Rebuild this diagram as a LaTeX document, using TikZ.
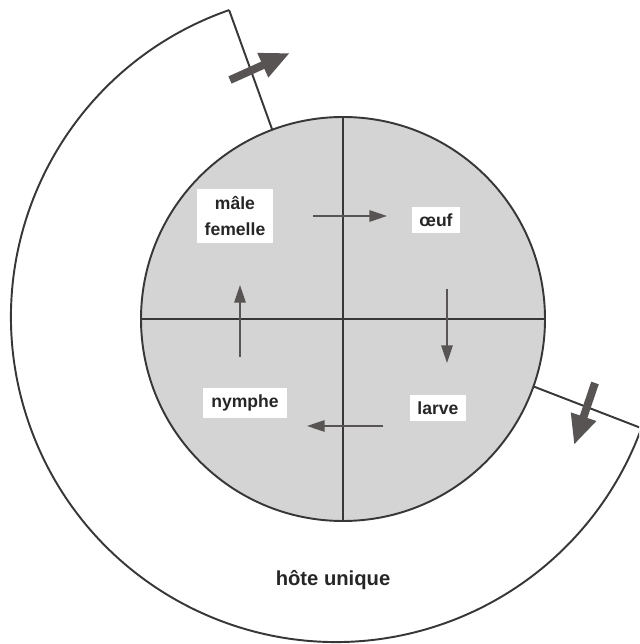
\documentclass[tikz,border=0pt]{standalone}
\usepackage{fontspec}
\setsansfont{Liberation Sans}
\usepackage{tikz}
\usetikzlibrary{arrows.meta,positioning,calc}
\usepackage{xcolor}
\definecolor{inkline}{RGB}{55,55,55}
\definecolor{inkarrow}{RGB}{88,84,84}
\definecolor{hostgrey}{RGB}{212,212,212}
\tikzset{
  stage/.style={fill=white,inner xsep=4.5pt,inner ysep=4pt,align=center,text=black!85,
                font=\sffamily\bfseries\fontsize{10}{15}\selectfont},
  hostlabel/.style={inner sep=2pt,text=black!85,
                font=\sffamily\bfseries\fontsize{11.5}{13}\selectfont},
  rim/.style={draw=inkline,line width=1.1pt},
  turn/.style={-{Triangle[length=10pt,width=6.5pt]},draw=inkarrow,line width=.9pt},
  passage/.style={-{Triangle[length=17pt,width=14pt]},draw=inkarrow,line width=4.5pt},
}

\begin{document}
\begin{tikzpicture}[x=0.02cm,y=0.02cm]
  \clip (-343,-325) rectangle (296,319);
  \coordinate (c) at (0,0);
  \coordinate (oc) at (-7,2);
  % host body with the four stages
  \draw[rim,fill=hostgrey] (c) circle[radius=202];
  \draw[rim] (0,202) -- (0,-202);
  \draw[rim] (-202,0) -- (202,0);
  \node[stage] (mf) at (-108,103) {mâle\\femelle};
  \node[stage] (egg) at (93,99) {œuf};
  \node[stage] (nymph) at (-98,-84) {nymphe};
  \node[stage] (larva) at (95,-89) {larve};
  % cycle arrows
  \coordinate (t1) at (-30,103);
  \coordinate (t2) at (44,103);
  \coordinate (r1) at (104,30);
  \coordinate (r2) at (104,-44);
  \coordinate (b1) at (40,-107);
  \coordinate (b2) at (-36,-107);
  \coordinate (l1) at (-103,-38);
  \coordinate (l2) at (-103,34);
  \draw[turn] (t1) -- (t2);
  \draw[turn] (r1) -- (r2);
  \draw[turn] (b1) -- (b2);
  \draw[turn] (l1) -- (l2);
  % outer passage round the host
  \coordinate (in1) at (110.5:202);
  \coordinate (out1) at ($(oc)+(109.2:325)$);
  \coordinate (in2) at (-19.5:202);
  \coordinate (out2) at ($(oc)+(-20:325)$);
  \draw[rim] (out1) arc[start angle=109.2,end angle=340,radius=325];
  \draw[rim] (in1) -- (out1);
  \draw[rim] (in2) -- (out2);
  \coordinate (p1) at (-113,239);
  \coordinate (p2) at (-53,266);
  \coordinate (q1) at (252,-64);
  \coordinate (q2) at (231,-126);
  \draw[passage] (p1) -- (p2);
  \draw[passage] (q1) -- (q2);
  \node[hostlabel] (host) at (-10,-261) {hôte unique};
\end{tikzpicture}
\end{document}
